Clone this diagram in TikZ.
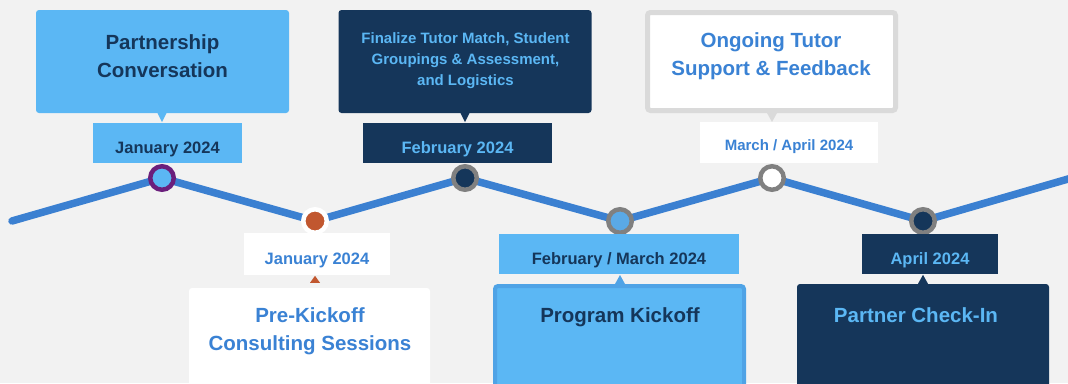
\documentclass[tikz,border=0pt]{standalone}
\usepackage{fontspec}
\setmainfont{Liberation Sans}
\usepackage{tikz}
\usetikzlibrary{calc}

\definecolor{bggray}{HTML}{F2F2F2}
\definecolor{lineblue}{HTML}{3B80D1}
\definecolor{skyfill}{HTML}{5BB7F4}
\definecolor{kickfill}{HTML}{5AA9E6}
\definecolor{kickborder}{HTML}{4FA3E6}
\definecolor{navy}{HTML}{15365A}
\definecolor{txtblue}{HTML}{3A82D4}
\definecolor{graybox}{HTML}{DADADA}
\definecolor{ringgray}{HTML}{808080}
\definecolor{purp}{HTML}{6B1F7C}
\definecolor{orng}{HTML}{C1572F}

\begin{document}
\begin{tikzpicture}[x=1pt,y=-1pt,
  tl/.style={draw=lineblue,line width=7.5pt,line cap=round,line join=round},
  milestone/.style={circle,minimum size=23.5pt,inner sep=0pt,line width=4.5pt,draw=ringgray},
  datebox/.style={rectangle,inner sep=0pt,minimum height=40pt,font=\fontsize{16.5}{20}\selectfont\bfseries,text height=22pt,text depth=1.6pt},
  descbox/.style={rectangle,rounded corners=3pt,inner sep=0pt,minimum height=103pt,minimum width=253pt},
  bigtxt/.style={font=\fontsize{20.5}{27.6}\selectfont\bfseries,align=center}]
\useasboundingbox (0,0) rectangle (1068,383);
\fill[bggray] (0,0) rectangle (1068,383);
\foreach \n/\x/\y in {1/162/178,2/315/221,3/465/178,4/620/221,5/772/178,6/923/221}{
	\coordinate (p\n) at (\x,\y);}
\coordinate (tlstart) at (12,221);
\coordinate (tlend) at (1075,177);
\draw[tl] (tlstart) -- (p1) -- (p2) -- (p3) -- (p4) -- (p5) -- (p6) -- (tlend);
\node[milestone,draw=purp,fill=skyfill] (m1) at (p1) {};
\node[milestone,draw=white,fill=orng] (m2) at (p2) {};
\node[milestone,fill=navy] (m3) at (p3) {};
\node[milestone,fill=kickfill] (m4) at (p4) {};
\node[milestone,fill=white] (m5) at (p5) {};
\node[milestone,fill=navy] (m6) at (p6) {};

\node[descbox,fill=skyfill] (desc1) at (162.5,61.5) {};
\node[descbox,fill=navy] (desc3) at (465,61.5) {};
\node[descbox,fill=white,draw=graybox,line width=5pt,minimum width=248pt,minimum height=98pt] (desc5) at (771.5,61.5) {};
\fill[skyfill] (m1 |- desc1.south) ++(-4.5,0) -- ++(9,0) -- ++(-4.5,9) -- cycle;
\fill[navy] (m3 |- desc3.south) ++(-4.5,0) -- ++(9,0) -- ++(-4.5,9) -- cycle;
\fill[graybox] (m5 |- desc5.south) ++(-5,0) -- ++(10,0) -- ++(-5,9) -- cycle;
\node[bigtxt,text=navy] (desc1txt) at (162.5,56) {Partnership\\Conversation};
\node[font=\fontsize{15}{21}\selectfont\bfseries,align=center,text=skyfill] (desc3txt) at (465.5,60.5) {Finalize Tutor Match, Student\\Groupings \& Assessment,\\and Logistics};
\node[bigtxt,text=txtblue] (desc5txt) at (771,56) {Ongoing Tutor\\Support \& Feedback};

\node[datebox,fill=skyfill,text=navy,minimum width=149pt] (date1) at (167.5,143) {January 2024};
\node[datebox,fill=navy,text=skyfill,minimum width=189pt] (date3) at (457.5,143) {February 2024};
\node[datebox,fill=white,text=txtblue,minimum width=178pt,minimum height=41pt,font=\fontsize{15}{18}\selectfont\bfseries,text height=18.5pt] (date5) at (789,142.5) {March / April 2024};

\node[datebox,fill=white,text=txtblue,minimum width=146pt,minimum height=42pt] (date2) at (317,254) {January 2024};
\node[datebox,fill=skyfill,text=navy,minimum width=240pt] (date4) at (619,254) {February / March 2024};
\node[datebox,fill=navy,text=skyfill,minimum width=136pt] (date6) at (930,254) {April 2024};

\node[descbox,fill=white,minimum width=241pt,minimum height=112pt] (desc2) at (309.5,344) {};
\node[descbox,fill=skyfill,draw=kickborder,line width=4pt,minimum width=249pt,minimum height=112pt] (desc4) at (619.5,342) {};
\node[descbox,fill=navy,minimum width=252pt,minimum height=116pt] (desc6) at (923,342) {};
\fill[orng] (m2 |- desc2.north) ++(-5,-5) -- ++(10,0) -- ++(-5,-7) -- cycle;
\fill[kickborder] (m4 |- desc4.north) ++(-5,0) -- ++(10,0) -- ++(-5,-9) -- cycle;
\fill[navy] (m6 |- desc6.north) ++(-5,0) -- ++(10,0) -- ++(-5,-9) -- cycle;
\node[bigtxt,text=txtblue] (desc2txt) at (310,331) {Pre-Kickoff\\Consulting Sessions};
\node[bigtxt,text=navy] (desc4txt) at (620,317) {Program Kickoff};
\node[bigtxt,text=skyfill] (desc6txt) at (916,315) {Partner Check-In};
\end{tikzpicture}
\end{document}
